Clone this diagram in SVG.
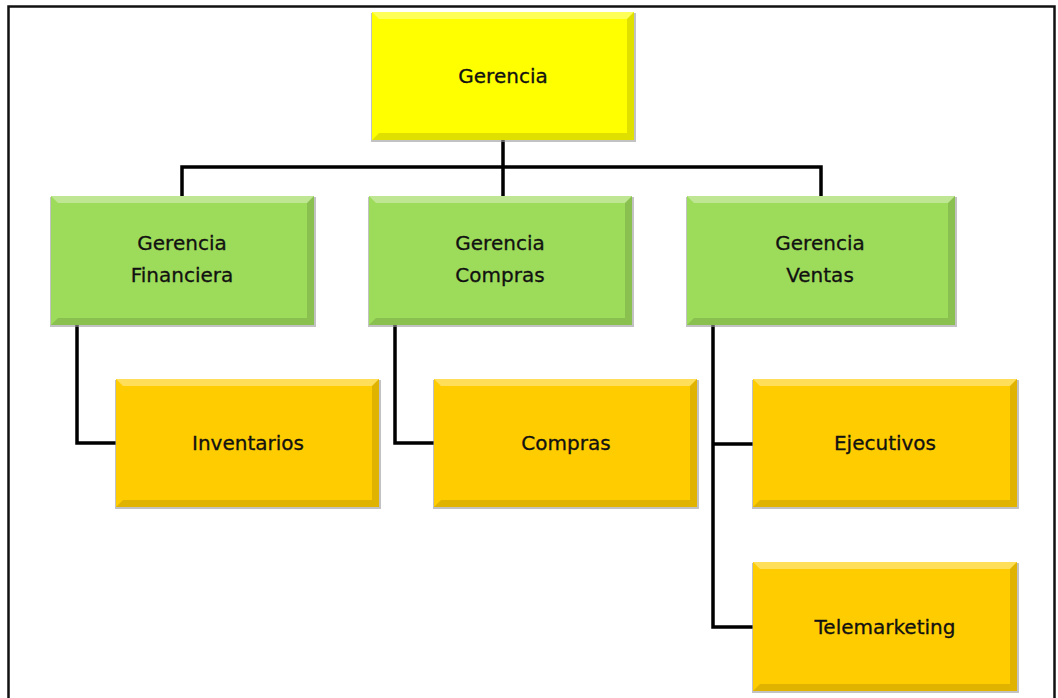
<svg xmlns="http://www.w3.org/2000/svg" width="1058" height="698" viewBox="0 0 1058 698">
<style>
.lbl{font-family:"DejaVu Sans","Liberation Sans",sans-serif;font-size:20px;fill:#111;stroke:#111;stroke-width:0.3;text-anchor:middle}
.conn{fill:none;stroke:#000;stroke-width:3.5;stroke-linejoin:miter}
.shadow{fill:#9a9a9a;opacity:0.6}
.hi{fill:#fff;opacity:0.35}
.lo{fill:#000;opacity:0.12}
</style>
<rect x="0" y="0" width="1058" height="698" fill="#fff"/>
<rect x="8.5" y="6.5" width="1046" height="700" fill="none" stroke="#111" stroke-width="2.5"/>
<g id="connectors">
<path class="conn" d="M503 140 V167 M182 196 V167 H821 V196 M503 167 V196"/>
<path class="conn" d="M77 325 V443 H117"/>
<path class="conn" d="M395 325 V443 H435"/>
<path class="conn" d="M713 325 V627 H754 M713 444 H754"/>
</g>
<g id="n-gerencia">
<rect class="shadow" x="371" y="13" width="265" height="129"/>
<rect x="372" y="12" width="262" height="128" fill="#ffff00"/>
<polygon class="hi" points="372,12 634,12 627,19 379,19"/>
<polygon class="lo" points="372,140 634,140 627,133 379,133"/>
<polygon class="lo" points="634,12 634,140 627,133 627,19"/>
<text class="lbl" x="503" y="83">Gerencia</text>
</g>
<g id="n-financiera">
<rect class="shadow" x="50" y="197" width="266" height="130"/>
<rect x="51" y="196" width="263" height="129" fill="#9ddb5a"/>
<polygon class="hi" points="51,196 314,196 307,203 58,203"/>
<polygon class="lo" points="51,325 314,325 307,318 58,318"/>
<polygon class="lo" points="314,196 314,325 307,318 307,203"/>
<text class="lbl" x="182" y="250">Gerencia</text>
<text class="lbl" x="182" y="282">Financiera</text>
</g>
<g id="n-gcompras">
<rect class="shadow" x="368" y="197" width="266" height="130"/>
<rect x="369" y="196" width="263" height="129" fill="#9ddb5a"/>
<polygon class="hi" points="369,196 632,196 625,203 376,203"/>
<polygon class="lo" points="369,325 632,325 625,318 376,318"/>
<polygon class="lo" points="632,196 632,325 625,318 625,203"/>
<text class="lbl" x="500" y="250">Gerencia</text>
<text class="lbl" x="500" y="282">Compras</text>
</g>
<g id="n-ventas">
<rect class="shadow" x="686" y="197" width="271" height="130"/>
<rect x="687" y="196" width="268" height="129" fill="#9ddb5a"/>
<polygon class="hi" points="687,196 955,196 948,203 694,203"/>
<polygon class="lo" points="687,325 955,325 948,318 694,318"/>
<polygon class="lo" points="955,196 955,325 948,318 948,203"/>
<text class="lbl" x="820" y="250">Gerencia</text>
<text class="lbl" x="820" y="282">Ventas</text>
</g>
<g id="n-inventarios">
<rect class="shadow" x="115" y="380" width="266" height="129"/>
<rect x="116" y="379" width="263" height="128" fill="#ffcc00"/>
<polygon class="hi" points="116,379 379,379 372,386 123,386"/>
<polygon class="lo" points="116,507 379,507 372,500 123,500"/>
<polygon class="lo" points="379,379 379,507 372,500 372,386"/>
<text class="lbl" x="248" y="450">Inventarios</text>
</g>
<g id="n-compras">
<rect class="shadow" x="433" y="380" width="266" height="129"/>
<rect x="434" y="379" width="263" height="128" fill="#ffcc00"/>
<polygon class="hi" points="434,379 697,379 690,386 441,386"/>
<polygon class="lo" points="434,507 697,507 690,500 441,500"/>
<polygon class="lo" points="697,379 697,507 690,500 690,386"/>
<text class="lbl" x="566" y="450">Compras</text>
</g>
<g id="n-ejecutivos">
<rect class="shadow" x="752" y="380" width="267" height="129"/>
<rect x="753" y="379" width="264" height="128" fill="#ffcc00"/>
<polygon class="hi" points="753,379 1017,379 1010,386 760,386"/>
<polygon class="lo" points="753,507 1017,507 1010,500 760,500"/>
<polygon class="lo" points="1017,379 1017,507 1010,500 1010,386"/>
<text class="lbl" x="885" y="450">Ejecutivos</text>
</g>
<g id="n-telemarketing">
<rect class="shadow" x="752" y="563" width="267" height="130"/>
<rect x="753" y="562" width="264" height="129" fill="#ffcc00"/>
<polygon class="hi" points="753,562 1017,562 1010,569 760,569"/>
<polygon class="lo" points="753,691 1017,691 1010,684 760,684"/>
<polygon class="lo" points="1017,562 1017,691 1010,684 1010,569"/>
<text class="lbl" x="885" y="634">Telemarketing</text>
</g>
</svg>
